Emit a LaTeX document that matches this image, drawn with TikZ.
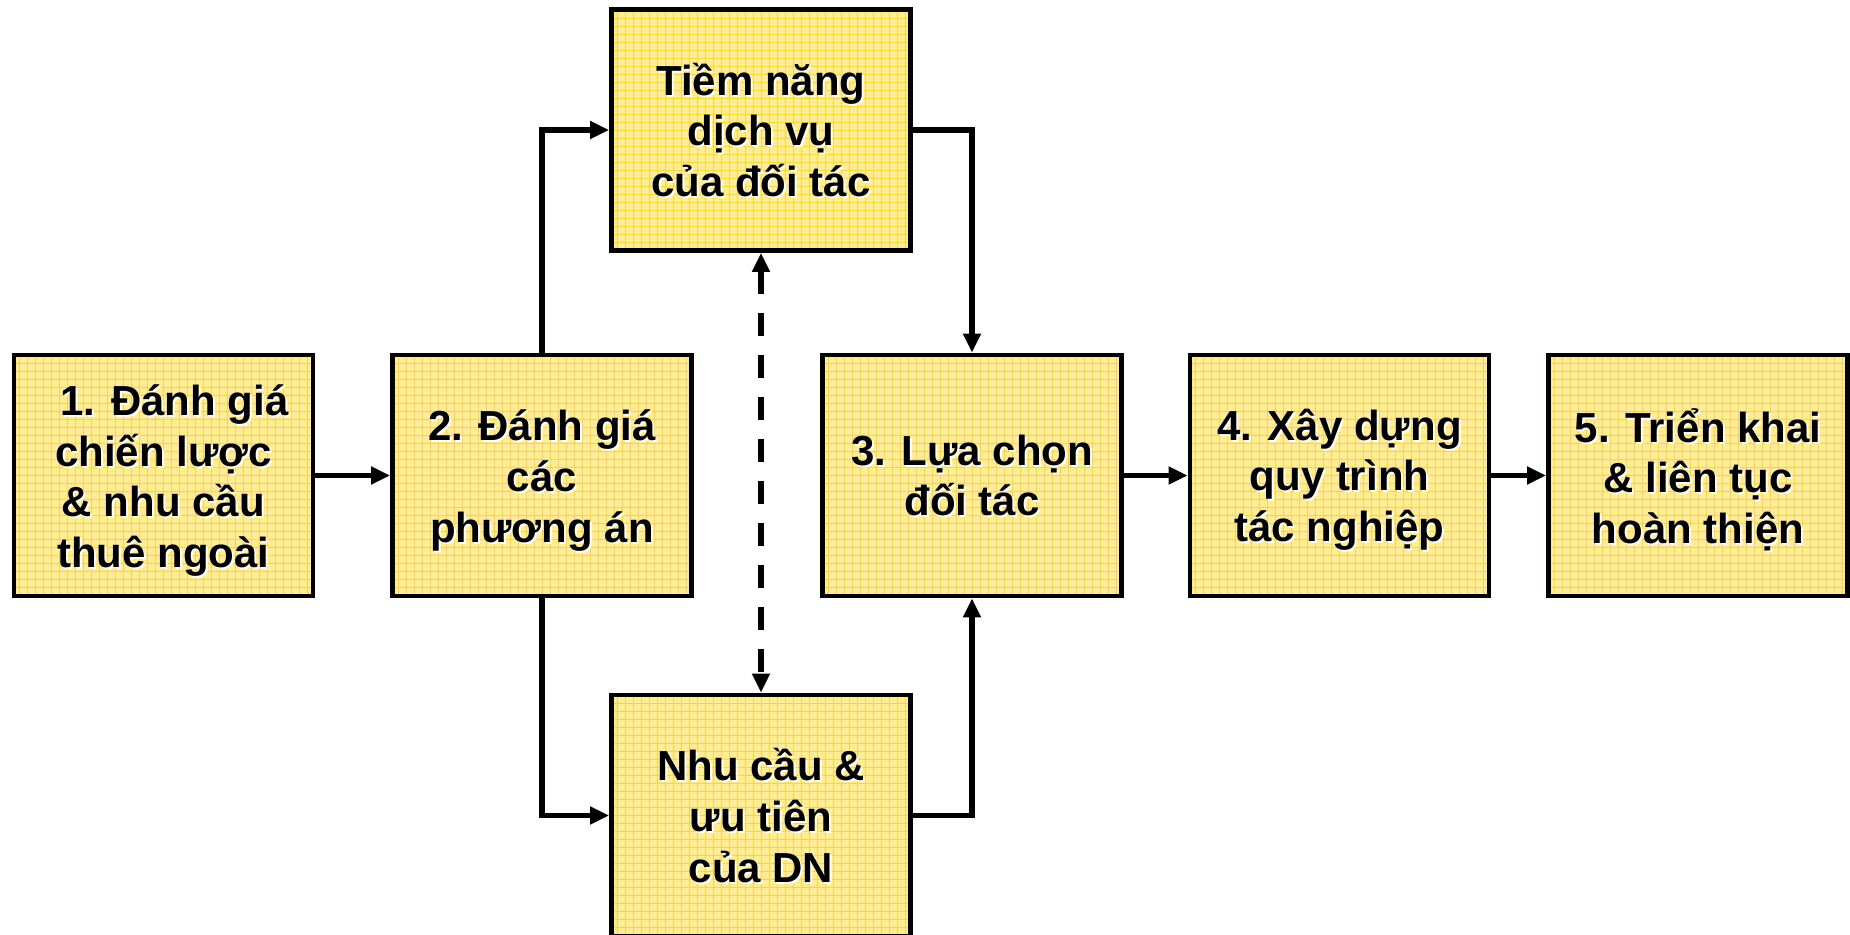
\documentclass[tikz,border=0pt]{standalone}
\usepackage{fontspec}
\setmainfont{Liberation Sans}
\usetikzlibrary{arrows.meta}

\definecolor{boxfill}{HTML}{FFEC96}
\definecolor{boxgrid}{HTML}{FAD447}

% a step box with a grid-patterned fill; its label carries a white drop shadow
% #1 = downward shift of the label, #2 = name, #3 = centre, #4 = label
\newcommand\stepnode[4][0pt]{%
  \node[stepbox] (#2) at (#3) {};
  \node[boxtext, text=white] (#2-shade) at ([shift={(1pt,-1pt-#1)}]#2.center) {#4};
  \node[boxtext] (#2-text) at ([yshift=-#1]#2.center) {#4};}

\begin{document}
\begin{tikzpicture}[x=0.5pt,y=-0.5pt,
  boxtext/.style={font=\bfseries\fontsize{21}{25.3}\selectfont, align=center, inner sep=0pt},
  stepbox/.style={draw=black, line width=2.4pt, fill=boxfill,
    minimum width=149.5pt, minimum height=120.5pt, inner sep=0pt,
    path picture={
      \draw[boxgrid, line width=0.45pt, step=4pt]
        ([shift={(-2pt,-2pt)}]path picture bounding box.south west) grid
        ([shift={(2pt,2pt)}]path picture bounding box.north east);
    }},
  tip/.tip={Triangle[length=9.5pt,width=8.5pt]},
  flow/.style={line width=2.8pt, -tip},
  both/.style={line width=2.8pt, dash pattern=on 11.5pt off 9.5pt, tip-tip},
]
\useasboundingbox (0,0) rectangle (1850,935);

\stepnode[2.5pt]{s1}{163.5,475.5}{\hspace*{11pt}1. Đánh giá\\chiến lược\\\& nhu cầu\\thuê ngoài}
\stepnode[2.5pt]{s2}{542,475.5}{2. Đánh giá\\các\\phương án}
\stepnode{pot}{761,130}{Tiềm năng\\dịch vụ\\của đối tác}
\stepnode{need}{761,815.5}{Nhu cầu \&\\ưu tiên\\của DN}
\stepnode{s3}{972,475.5}{3. Lựa chọn\\đối tác}
\stepnode[2pt]{s4}{1339.5,475.5}{4. Xây dựng\\quy trình\\tác nghiệp}
\stepnode[2pt]{s5}{1698,475.5}{5. Triển khai\\\& liên tục\\hoàn thiện}

\draw[flow] (s1) -- (s2);
\draw[flow] (s2.north) |- (pot.west);
\draw[flow] (s2.south) |- (need.west);
\draw[flow] (pot.east) -| (s3.north);
\draw[flow] (need.east) -| (s3.south);
\draw[both] (pot.south) -- (need.north);
\draw[flow] (s3) -- (s4);
\draw[flow] (s4) -- (s5);
\end{tikzpicture}
\end{document}
